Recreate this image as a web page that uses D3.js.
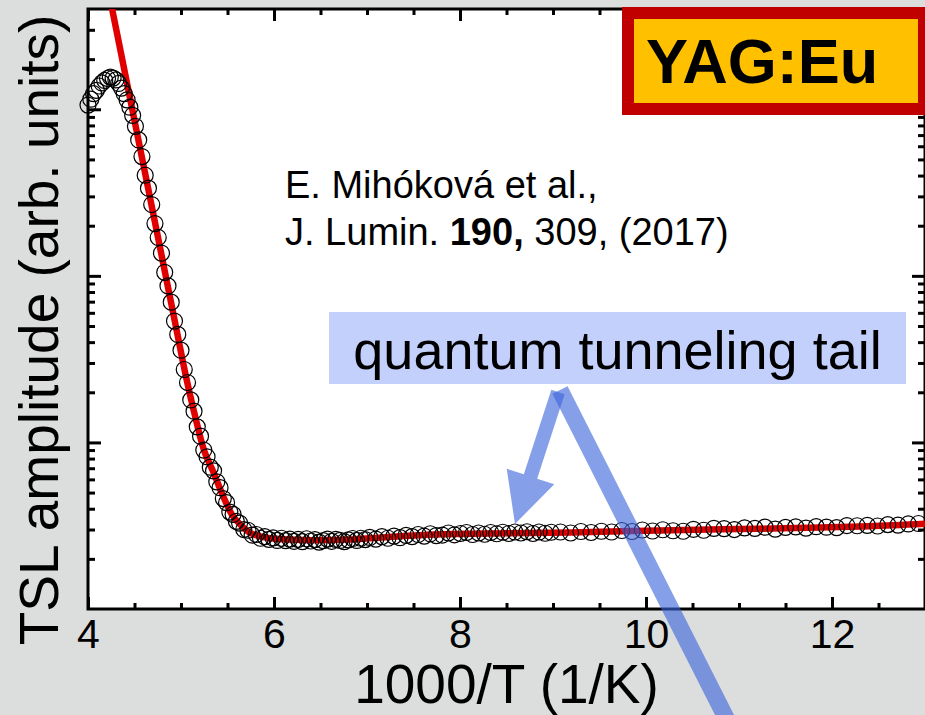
<!DOCTYPE html>
<html>
<head>
<meta charset="utf-8">
<script src="https://cdn.jsdelivr.net/npm/d3@7"></script>
<style>
  body { margin: 0; background: #dcdedd; }
  svg { display: block; }
</style>
</head>
<body>
<div id="chart"></div>
<script>
// measured TSL points, x = 1000/T (1/K), y = amplitude (arb. units)
const invT = [
  4.00, 4.03, 4.06, 4.09, 4.12, 4.15, 4.18, 4.21, 4.24, 4.27, 4.30, 4.33, 4.36, 4.39, 4.42, 4.45, 4.48,
  4.51, 4.545, 4.58, 4.615, 4.65, 4.685, 4.72, 4.755, 4.79, 4.825, 4.86, 4.895, 4.93, 4.965, 5.00, 5.035,
  5.07, 5.105, 5.14, 5.175, 5.21, 5.245, 5.28, 5.315, 5.35, 5.385, 5.42, 5.455, 5.49, 5.525, 5.56, 5.595,
  5.63, 5.675, 5.72, 5.765, 5.81, 5.855, 5.90, 5.945, 5.99, 6.035, 6.08, 6.125, 6.17, 6.215, 6.26, 6.305,
  6.35, 6.395, 6.44, 6.485, 6.53, 6.575, 6.62, 6.665, 6.71, 6.755, 6.80, 6.845, 6.89, 6.935, 6.98,
  7.03, 7.095, 7.16, 7.225, 7.29, 7.355, 7.42, 7.485, 7.55, 7.615, 7.68, 7.745, 7.81, 7.875, 7.94, 8.005,
  8.07, 8.135, 8.20, 8.265, 8.33, 8.395, 8.46, 8.525, 8.59, 8.655, 8.72, 8.785, 8.85, 8.915, 8.98,
  9.08, 9.19, 9.30, 9.41, 9.52, 9.63, 9.74, 9.85, 9.96, 10.07, 10.18, 10.29, 10.40, 10.51, 10.62, 10.73,
  10.84, 10.95, 11.06, 11.17, 11.28, 11.39, 11.50, 11.61, 11.72, 11.83, 11.94, 12.05, 12.16, 12.27, 12.38,
  12.49, 12.60, 12.71, 12.82, 12.93
];
const tsl = [
  1060, 1150, 1240, 1300, 1380, 1440, 1490, 1530, 1560, 1540, 1500, 1430, 1340, 1240, 1140, 1030, 920,
  790, 655, 520, 402, 336, 268, 206, 170, 137, 105, 87, 69.5, 53.5, 44.5, 35.8, 27.4,
  22.9, 18.0, 15.4, 12.4, 10.9, 9.0, 8.2, 7.1, 6.75, 5.8, 5.35, 4.6, 4.35, 3.82, 3.70, 3.36,
  3.28, 3.00, 2.97, 2.78, 2.80, 2.66, 2.72, 2.62, 2.67, 2.58, 2.66, 2.57, 2.63, 2.55, 2.62, 2.54,
  2.64, 2.56, 2.61, 2.52, 2.57, 2.63, 2.55, 2.62, 2.58, 2.54, 2.60, 2.65, 2.58, 2.66, 2.61,
  2.69, 2.63, 2.72, 2.66, 2.74, 2.68, 2.77, 2.72, 2.80, 2.74, 2.83, 2.76, 2.78, 2.86, 2.79, 2.84,
  2.88, 2.80, 2.86, 2.81, 2.88, 2.83, 2.89, 2.84, 2.90, 2.86, 2.91, 2.84, 2.90, 2.85, 2.89,
  2.90, 2.86, 2.92, 2.88, 2.93, 2.90, 2.96, 2.92, 2.98, 2.94, 2.99, 2.95, 2.93, 3.01, 2.97, 3.05,
  3.04, 3.00, 3.07, 3.05, 3.10, 3.02, 3.09, 3.11, 3.06, 3.12, 3.10, 3.08, 3.17, 3.16, 3.18,
  3.15, 3.21, 3.19, 3.24, 3.26
];

// fitted curve
const fitInvT = [4.20, 4.25, 4.35, 4.45, 4.55, 4.65, 4.75, 4.85, 4.95, 5.05, 5.15, 5.25, 5.35, 5.45, 5.55,
  5.65, 5.75, 5.90, 6.10, 6.40, 6.80, 7.20, 7.80, 8.50, 9.20, 10.0, 10.8, 11.6, 12.4, 13.0];
const fitTsl = [5850, 4246, 2239, 1180, 622, 328, 173, 91.2, 48.1, 25.4, 14.5, 8.9, 6.6, 4.8, 3.67,
  3.16, 2.85, 2.69, 2.62, 2.59, 2.61, 2.70, 2.81, 2.85, 2.88, 2.95, 3.01, 3.06, 3.14, 3.25];

const xMajor = [4, 6, 8, 10, 12];
const xMinor = [4.5, 5, 5.5, 6.5, 7, 7.5, 8.5, 9, 9.5, 10.5, 11, 11.5, 12.5];
const yMajor = [10, 100, 1000];
const yMinor = [2, 3, 4, 5, 6, 7, 8, 9, 20, 30, 40, 50, 60, 70, 80, 90,
  200, 300, 400, 500, 600, 700, 800, 900, 2000, 3000];

const citation1 = "E. Mihóková et al.,";
const citation2 = ["J. Lumin. ", "190,", " 309, (2017)"];
const sampleLabel = "YAG:Eu";
const noteLabel = "quantum tunneling tail";

const width = 925, height = 715;
const margin = { left: 88, right: 0, top: 9, bottom: 106 };
const font = "'Liberation Sans', Arial, sans-serif";

const svg = d3.select("#chart").append("svg")
    .attr("width", width)
    .attr("height", height)
    .attr("viewBox", [0, 0, width, height]);

svg.append("rect")
    .attr("width", width).attr("height", height)
    .attr("fill", "#dcdedd");

const x = d3.scaleLinear()
    .domain([4, 13])
    .range([margin.left, width - margin.right]);

const y = d3.scaleLog()
    .domain([1, 4000])
    .range([height - margin.bottom, margin.top]);

const x0 = x.range()[0], x1 = x.range()[1];
const y0 = y.range()[0], y1 = y.range()[1];

svg.append("rect")
    .attr("x", x0).attr("y", y1)
    .attr("width", x1 - x0).attr("height", y0 - y1)
    .attr("fill", "white");

svg.append("clipPath").attr("id", "plot-clip")
  .append("rect")
    .attr("x", x0).attr("y", y1)
    .attr("width", x1 - x0).attr("height", y0 - y1);

// axes, ticks pointing inwards
const tickAxis = (axis, values, size) => axis.tickValues(values).tickSize(size).tickSizeOuter(0);

const drawAxis = (axis, transform, labels) => {
    const g = svg.append("g")
        .attr("transform", transform)
        .call(axis);
    g.select(".domain").remove();
    g.selectAll(".tick line").attr("stroke", "black").attr("stroke-width", 3);
    if (!labels) g.selectAll(".tick text").remove();
    return g;
};

drawAxis(tickAxis(d3.axisBottom(x), xMinor, -6), `translate(0,${y0})`, false);
drawAxis(tickAxis(d3.axisTop(x), xMinor, -6), `translate(0,${y1})`, false);
drawAxis(tickAxis(d3.axisTop(x), xMajor, -12), `translate(0,${y1})`, false);
drawAxis(tickAxis(d3.axisLeft(y), yMinor, -7), `translate(${x0},0)`, false);
drawAxis(tickAxis(d3.axisLeft(y), yMajor, -13), `translate(${x0},0)`, false);
drawAxis(tickAxis(d3.axisRight(y), yMinor, -7), `translate(${x1},0)`, false);
drawAxis(tickAxis(d3.axisRight(y), yMajor, -13), `translate(${x1},0)`, false);

drawAxis(tickAxis(d3.axisBottom(x), xMajor, -12).tickPadding(10).tickFormat(d3.format("d")),
        `translate(0,${y0})`, true)
    .selectAll(".tick text")
    .attr("font-family", font)
    .attr("font-size", 41)
    .attr("fill", "black");

svg.append("rect")
    .attr("x", x0).attr("y", y1)
    .attr("width", x1 - x0).attr("height", y0 - y1)
    .attr("fill", "none")
    .attr("stroke", "black")
    .attr("stroke-width", 3);

// fit line under the data circles
const line = d3.line()
    .x(d => x(d[0]))
    .y(d => y(d[1]))
    .curve(d3.curveCatmullRom);

svg.append("path")
    .datum(d3.zip(fitInvT, fitTsl))
    .attr("clip-path", "url(#plot-clip)")
    .attr("fill", "none")
    .attr("stroke", "#e00000")
    .attr("stroke-width", 6.5)
    .attr("d", line);

svg.append("g")
    .attr("fill", "none")
    .attr("stroke", "black")
    .attr("stroke-width", 1.2)
  .selectAll("circle")
  .data(d3.zip(invT, tsl))
  .join("circle")
    .attr("cx", d => x(d[0]))
    .attr("cy", d => y(d[1]))
    .attr("r", 8);

// axis titles
svg.append("text")
    .attr("x", (x0 + x1) / 2)
    .attr("y", 703)
    .attr("text-anchor", "middle")
    .attr("font-family", font)
    .attr("font-size", 55)
    .text("1000/T (1/K)");

svg.append("text")
    .attr("transform", "translate(58,330) rotate(-90)")
    .attr("text-anchor", "middle")
    .attr("font-family", font)
    .attr("font-size", 55)
    .text("TSL amplitude (arb. units)");

// citation
svg.append("text")
    .attr("x", 285).attr("y", 198)
    .attr("font-family", font)
    .attr("font-size", 38)
    .text(citation1);

svg.append("text")
    .attr("x", 285).attr("y", 245)
    .attr("font-family", font)
    .attr("font-size", 38)
  .selectAll("tspan")
  .data(citation2)
  .join("tspan")
    .attr("font-weight", (d, i) => i === 1 ? "bold" : null)
    .text(d => d);

// sample label box
svg.append("rect")
    .attr("x", 622).attr("y", 7)
    .attr("width", 320).attr("height", 108)
    .attr("fill", "#c00000");
svg.append("rect")
    .attr("x", 634).attr("y", 19)
    .attr("width", 284).attr("height", 84)
    .attr("fill", "#ffc000");
svg.append("text")
    .attr("x", 646).attr("y", 83)
    .attr("font-family", font)
    .attr("font-weight", "bold")
    .attr("font-size", 63)
    .text(sampleLabel);

// annotation box and arrows
svg.append("rect")
    .attr("x", 329).attr("y", 312)
    .attr("width", 577).attr("height", 72)
    .attr("fill", "#c4d0fc");
svg.append("text")
    .attr("x", 617.5).attr("y", 369)
    .attr("text-anchor", "middle")
    .attr("font-family", font)
    .attr("font-size", 54)
    .text(noteLabel);

const arrowPoints = (ax, ay, bx, by, shaftW, headW, headL) => {
    const len = Math.hypot(bx - ax, by - ay);
    const ux = (bx - ax) / len, uy = (by - ay) / len;
    const px = -uy, py = ux;
    const cx = bx - ux * headL, cy = by - uy * headL;
    return [
        [ax + px * shaftW / 2, ay + py * shaftW / 2],
        [cx + px * shaftW / 2, cy + py * shaftW / 2],
        [cx + px * headW / 2, cy + py * headW / 2],
        [bx, by],
        [cx - px * headW / 2, cy - py * headW / 2],
        [cx - px * shaftW / 2, cy - py * shaftW / 2],
        [ax - px * shaftW / 2, ay - py * shaftW / 2]
    ];
};

const arrows = svg.append("g")
    .attr("fill", "#3b64dc")
    .attr("fill-opacity", 0.62);

arrows.append("polygon")
    .attr("points", arrowPoints(558, 392, 515, 524, 14, 50, 50).join(" "));
arrows.append("polygon")
    .attr("points", arrowPoints(560, 390, 760, 785, 17, 17, 1).join(" "));
</script>
</body>
</html>
